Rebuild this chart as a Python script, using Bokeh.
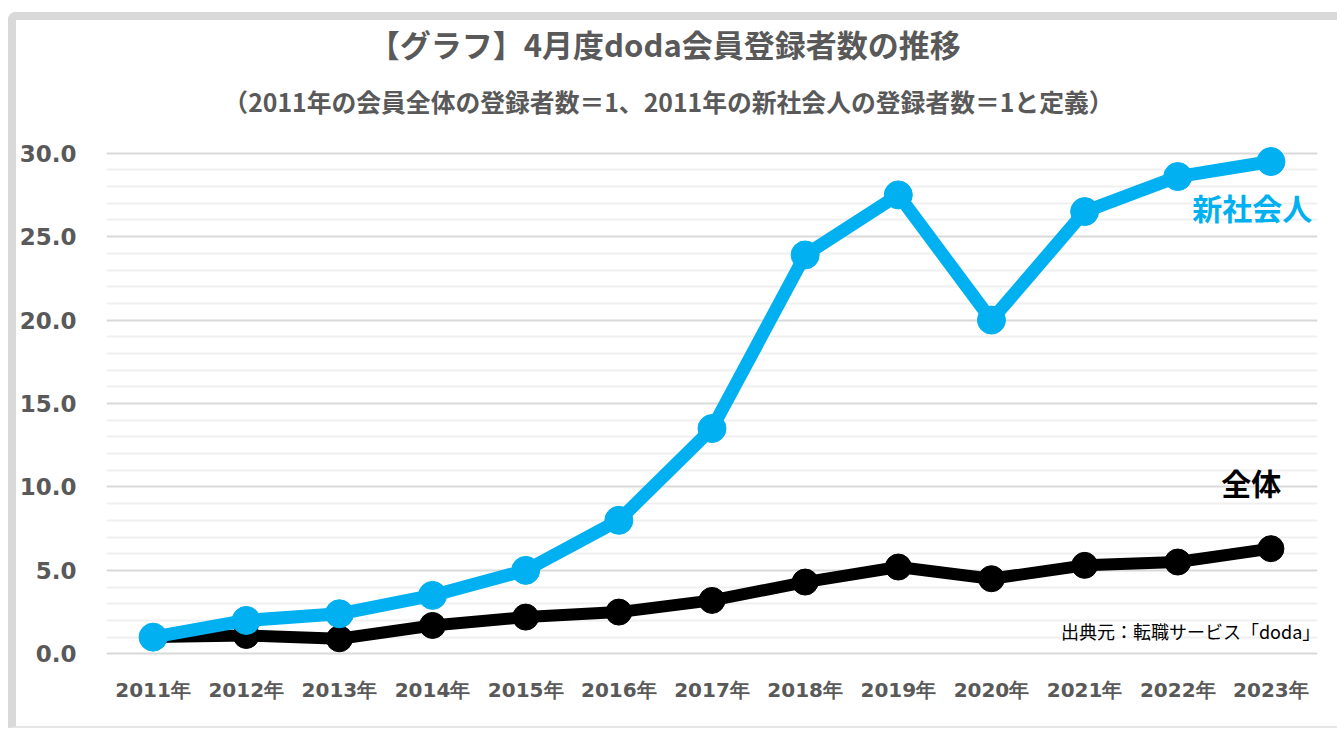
from bokeh.plotting import figure
from bokeh.layouts import column
from bokeh.models import FactorRange, Range1d, FixedTicker, NumeralTickFormatter, Label, ColumnDataSource
from bokeh.core.properties import value
from bokeh.embed import file_html
from bokeh.resources import INLINE

years = ["2011年", "2012年", "2013年", "2014年", "2015年", "2016年", "2017年",
         "2018年", "2019年", "2020年", "2021年", "2022年", "2023年"]
shinshakaijin = [1.0, 2.0, 2.4, 3.5, 5.0, 8.0, 13.5, 23.9, 27.5, 20.0, 26.5, 28.6, 29.5]
zentai = [1.0, 1.1, 0.9, 1.7, 2.2, 2.5, 3.2, 4.3, 5.2, 4.5, 5.3, 5.5, 6.3]
y_major = [0, 5, 10, 15, 20, 25, 30]
y_minor = [v for v in range(0, 31) if v % 5 != 0]

title_text = "【グラフ】4月度doda会員登録者数の推移"
subtitle_text = "（2011年の会員全体の登録者数＝1、2011年の新社会人の登録者数＝1と定義）"
source_text = "出典元：転職サービス「doda」"

BLUE = "#00B0F0"
GRAY = "#595959"
W = 1321

# header with title and subtitle
h = figure(width=W, height=116, x_range=Range1d(0, W), y_range=Range1d(116, 0),
           output_backend="svg", toolbar_location=None, x_axis_type=None, y_axis_type=None,
           min_border=0)
h.outline_line_color = None
h.grid.visible = False
h.text(x=[609], y=[23], text=[title_text], text_align="center", text_baseline="middle",
       text_font=value("Noto Sans CJK JP"), text_font_style="bold", text_font_size="31px",
       text_color=GRAY)
h.text(x=[613], y=[80], text=[subtitle_text], text_align="center", text_baseline="middle",
       text_font=value("Noto Sans CJK JP"), text_font_style="bold", text_font_size="24.8px",
       text_color=GRAY)

src = ColumnDataSource(dict(year=years, s=shinshakaijin, z=zentai))

p = figure(width=W, height=590, x_range=FactorRange(*years, range_padding=0),
           y_range=Range1d(-1, 31), output_backend="svg", toolbar_location=None,
           min_border_left=88, min_border_right=20, min_border_top=0, min_border_bottom=56)
p.outline_line_color = None

p.yaxis.ticker = FixedTicker(ticks=y_major, minor_ticks=y_minor)
p.yaxis.formatter = NumeralTickFormatter(format="0.0")
p.yaxis.axis_line_color = None
p.yaxis.major_tick_line_color = None
p.yaxis.minor_tick_line_color = None
p.yaxis.major_label_text_font = "DejaVu Sans"
p.yaxis.major_label_text_font_style = "bold"
p.yaxis.major_label_text_font_size = "23px"
p.yaxis.major_label_text_color = GRAY
p.yaxis.major_label_standoff = 24

p.xaxis.axis_line_color = None
p.xaxis.major_tick_line_color = None
p.xaxis.minor_tick_line_color = None
p.xaxis.major_label_text_font = "DejaVu Sans"
p.xaxis.major_label_text_font_style = "bold"
p.xaxis.major_label_text_font_size = "20px"
p.xaxis.major_label_text_color = GRAY
p.xaxis.major_label_standoff = 1

p.xgrid.grid_line_color = None
p.ygrid.grid_line_color = "#d9d9d9"
p.ygrid.grid_line_width = 2
p.ygrid.minor_grid_line_color = "#efefef"
p.ygrid.minor_grid_line_width = 2

p.line("year", "z", source=src, line_color="black", line_width=12)
p.scatter("year", "z", source=src, size=26, fill_color="black", line_color="black")
p.line("year", "s", source=src, line_color=BLUE, line_width=13)
p.scatter("year", "s", source=src, size=28, fill_color=BLUE, line_color=BLUE)

p.add_layout(Label(x=12.3, y=26.8, text="新社会人", text_align="center", text_baseline="middle",
                   text_font="Noto Sans CJK JP", text_font_style="bold", text_font_size="30px",
                   text_color=BLUE))
p.add_layout(Label(x=12.29, y=10.3, text="全体", text_align="center", text_baseline="middle",
                   text_font="Noto Sans CJK JP", text_font_style="bold", text_font_size="30px",
                   text_color="black"))
p.add_layout(Label(x=13.03, y=1.36, text=source_text, text_align="right", text_baseline="middle",
                   text_font="Noto Sans CJK JP", text_font_size="18px", text_color="black"))

layout = column(h, p, spacing=0)
layout.styles = {"box-sizing": "content-box", "margin-left": "8px", "margin-top": "12px",
                 "border-left": "8px solid #d9d9d9", "border-top": "8px solid #d9d9d9",
                 "border-bottom": "2px solid #e6e6e6", "border-top-left-radius": "8px"}

open("out.html", "w").write(file_html(layout, INLINE))
